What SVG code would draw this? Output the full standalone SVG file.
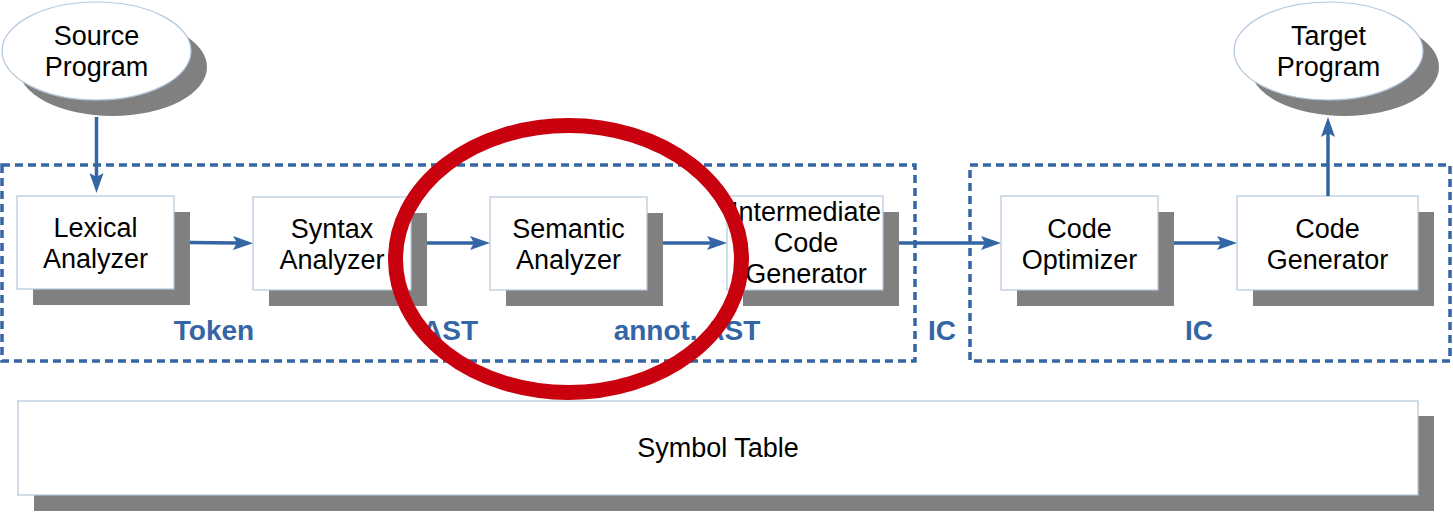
<svg xmlns="http://www.w3.org/2000/svg" width="1453" height="512" viewBox="0 0 1453 512">
  <defs>
    <marker id="arr" markerUnits="userSpaceOnUse" markerWidth="20" markerHeight="14" viewBox="0 0 20 14" refX="4" refY="7" orient="auto">
      <path d="M0,0 L20,7 L0,14 L4,7 Z" fill="#3465a4"/>
    </marker>
  </defs>
  <style>
    .shadow { fill: #808080; }
    .box { fill: #ffffff; stroke: #b4c7dc; stroke-width: 1.2; }
    .t { font-family: "Liberation Sans", Arial, sans-serif; font-size: 27px; fill: #000000; text-anchor: middle; }
    .lbl { font-family: "Liberation Sans", Arial, sans-serif; font-size: 28px; font-weight: bold; fill: #3465a4; text-anchor: middle; }
    .frame { fill: none; stroke: #3465a4; stroke-width: 3.5; stroke-dasharray: 8 5; }
    .conn { fill: none; stroke: #3465a4; stroke-width: 3.5; marker-end: url(#arr); }
  </style>
  <rect width="1453" height="512" fill="#ffffff"/>

  <g id="frames">
    <rect class="frame" x="2" y="165" width="913" height="196"/>
    <rect class="frame" x="970" y="165" width="480" height="196"/>
  </g>

  <g id="source-program">
    <ellipse class="shadow" cx="112.5" cy="67" rx="94.5" ry="49"/>
    <ellipse class="box" cx="96.5" cy="51" rx="94.5" ry="49"/>
    <text class="t" x="96.5" y="45">Source</text>
    <text class="t" x="96.5" y="76">Program</text>
  </g>

  <g id="target-program">
    <ellipse class="shadow" cx="1344.5" cy="67" rx="94.5" ry="49"/>
    <ellipse class="box" cx="1328.5" cy="51" rx="94.5" ry="49"/>
    <text class="t" x="1328.5" y="45">Target</text>
    <text class="t" x="1328.5" y="76">Program</text>
  </g>

  <g id="lexical-analyzer">
    <rect class="shadow" x="33" y="212" width="157" height="93"/>
    <rect class="box" x="17" y="196" width="157" height="93"/>
    <text class="t" x="95.5" y="237">Lexical</text>
    <text class="t" x="95.5" y="268">Analyzer</text>
  </g>

  <g id="syntax-analyzer">
    <rect class="shadow" x="269" y="213" width="158" height="93"/>
    <rect class="box" x="253" y="197" width="158" height="93"/>
    <text class="t" x="332" y="238">Syntax</text>
    <text class="t" x="332" y="269">Analyzer</text>
  </g>

  <g id="semantic-analyzer">
    <rect class="shadow" x="506" y="213" width="157" height="93"/>
    <rect class="box" x="490" y="197" width="157" height="93"/>
    <text class="t" x="568.5" y="238">Semantic</text>
    <text class="t" x="568.5" y="269">Analyzer</text>
  </g>

  <g id="intermediate-code-generator">
    <rect class="shadow" x="743" y="212" width="156" height="94"/>
    <rect class="box" x="727" y="196" width="156" height="94"/>
    <text class="t" x="806" y="221">Intermediate</text>
    <text class="t" x="806" y="252">Code</text>
    <text class="t" x="806" y="283">Generator</text>
  </g>

  <g id="code-optimizer">
    <rect class="shadow" x="1017" y="212" width="157" height="94"/>
    <rect class="box" x="1001" y="196" width="157" height="94"/>
    <text class="t" x="1079.5" y="238">Code</text>
    <text class="t" x="1079.5" y="269">Optimizer</text>
  </g>

  <g id="code-generator">
    <rect class="shadow" x="1253" y="212" width="181" height="94"/>
    <rect class="box" x="1237" y="196" width="181" height="94"/>
    <text class="t" x="1327.5" y="238">Code</text>
    <text class="t" x="1327.5" y="269">Generator</text>
  </g>

  <g id="symbol-table">
    <rect class="shadow" x="34" y="416" width="1400" height="95"/>
    <rect class="box" x="18" y="401" width="1400" height="94"/>
    <text class="t" x="718" y="457">Symbol Table</text>
  </g>

  <g id="connectors">
    <line class="conn" x1="96.5" y1="117" x2="96.5" y2="177"/>
    <line class="conn" x1="190" y1="242.5" x2="237" y2="243"/>
    <line class="conn" x1="427" y1="243" x2="474" y2="243"/>
    <line class="conn" x1="663" y1="243" x2="711" y2="243"/>
    <line class="conn" x1="899" y1="243" x2="985" y2="243"/>
    <line class="conn" x1="1174" y1="243" x2="1221" y2="243"/>
    <line class="conn" x1="1328" y1="196" x2="1328" y2="133"/>
  </g>

  <g id="labels">
    <text class="lbl" x="214" y="340">Token</text>
    <text class="lbl" x="450" y="340">AST</text>
    <text class="lbl" x="687" y="340">annot. AST</text>
    <text class="lbl" x="942" y="340">IC</text>
    <text class="lbl" x="1199" y="340">IC</text>
  </g>

  <g id="highlight">
    <ellipse cx="568.5" cy="259" rx="173" ry="133.5" fill="none" stroke="#c9000d" stroke-width="15"/>
  </g>
</svg>
